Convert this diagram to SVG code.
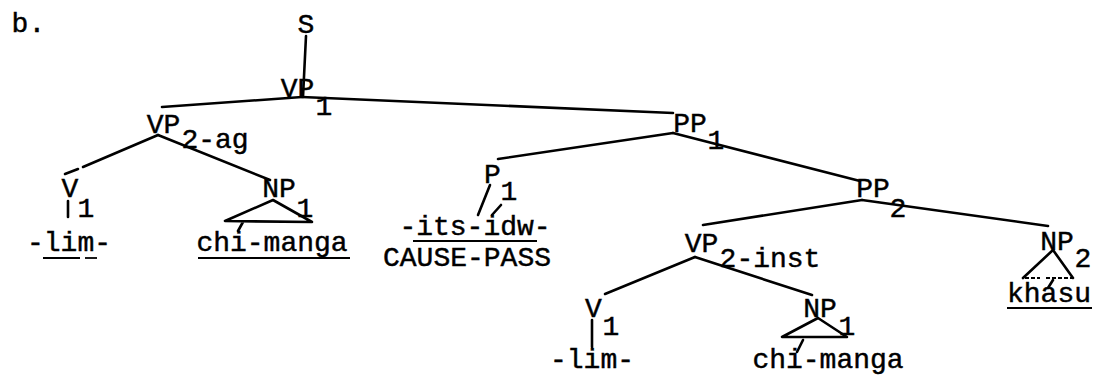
<svg xmlns="http://www.w3.org/2000/svg" width="1097" height="375" viewBox="0 0 1097 375">
<style>
text{font-family:"Liberation Mono","DejaVu Sans Mono",monospace;font-size:28px;fill:#000;stroke:#000;stroke-width:0.45;text-anchor:middle}
.e{stroke:#000;stroke-width:2.6;fill:none;stroke-linecap:round;stroke-linejoin:round}
.u{stroke:#000;stroke-width:1.8;fill:none}
</style>
<rect width="1097" height="375" fill="#fff"/>
<text x="11.6" y="32" style="text-anchor:start">b.</text>
<g id="connectors">
<line class="e" x1="306" y1="36" x2="303" y2="97"/>
<line class="e" x1="302" y1="97" x2="162" y2="107"/>
<line class="e" x1="302" y1="97" x2="673" y2="113"/>
<line class="e" x1="158" y1="135" x2="83" y2="167"/>
<line class="e" x1="78" y1="169" x2="65" y2="174"/>
<line class="e" x1="158" y1="135" x2="270" y2="180"/>
<line class="e" x1="68" y1="201" x2="68" y2="217"/>
<line class="e" x1="673" y1="133" x2="498" y2="159"/>
<line class="e" x1="673" y1="133" x2="860" y2="181"/>
<line class="e" x1="490" y1="185" x2="478" y2="215"/>
<line class="e" x1="501" y1="205" x2="492" y2="215"/>
<line class="e" x1="862" y1="200" x2="703" y2="225"/>
<line class="e" x1="862" y1="200" x2="1048" y2="226"/>
<line class="e" x1="695" y1="257" x2="605" y2="294"/>
<line class="e" x1="695" y1="257" x2="812" y2="295"/>
<line class="e" x1="592" y1="320" x2="592" y2="347"/>
</g>
<g id="S"><text x="306" y="33">S</text></g>
<g id="VP1"><text x="297.5" y="97">VP</text><text x="324" y="115">1</text></g>
<g id="VP2-ag"><text x="163.5" y="133">VP</text><text x="215" y="148">2-ag</text></g>
<g id="V1-a"><text x="70" y="197">V</text><text x="86" y="217">1</text></g>
<g id="lim-a"><text x="69" y="251">-lim-</text>
<line class="u" x1="43" y1="258" x2="80" y2="258"/><line class="u" x1="85" y1="258" x2="97" y2="258"/></g>
<g id="NP1-a"><text x="279" y="197">NP</text><text x="305" y="217">1</text>
<path class="e" d="M273 200 L225 221 L312 222 Z M243 222 L238 231"/></g>
<g id="chimanga-a"><text x="272" y="251">chi-manga</text>
<line class="u" x1="198" y1="258" x2="350" y2="258"/></g>
<g id="PP1"><text x="690" y="132">PP</text><text x="716" y="149">1</text></g>
<g id="P1"><text x="492.5" y="183">P</text><text x="509" y="200">1</text></g>
<g id="its-idw"><text x="475" y="235">-its-idw-</text>
<line class="u" x1="413" y1="241" x2="537" y2="241"/>
<text x="467" y="266">CAUSE-PASS</text></g>
<g id="PP2"><text x="873" y="197">PP</text><text x="898" y="217">2</text></g>
<g id="VP2-inst"><text x="701.5" y="252">VP</text><text x="770" y="267">2-inst</text></g>
<g id="V1-b"><text x="593.5" y="317">V</text><text x="611" y="335">1</text></g>
<g id="lim-b"><text x="592" y="368">-lim-</text></g>
<g id="NP1-b"><text x="820" y="317">NP</text><text x="847" y="335">1</text>
<path class="e" d="M818 318 L782 337 L847 337 Z M803 340 L797 352"/></g>
<g id="chimanga-b"><text x="828" y="368">chi-manga</text></g>
<g id="NP2"><text x="1057" y="250">NP</text><text x="1083" y="267">2</text>
<path class="e" d="M1053 250 L1023 278 M1053 250 L1073 278 M1053 280 L1048 288"/>
<path class="u" d="M1025 278 L1040 278 M1046 278 L1073 278" stroke-dasharray="4 2"/></g>
<g id="khasu"><text x="1049" y="302">khasu</text>
<line class="u" x1="1007" y1="308" x2="1092" y2="308"/></g>
</svg>
